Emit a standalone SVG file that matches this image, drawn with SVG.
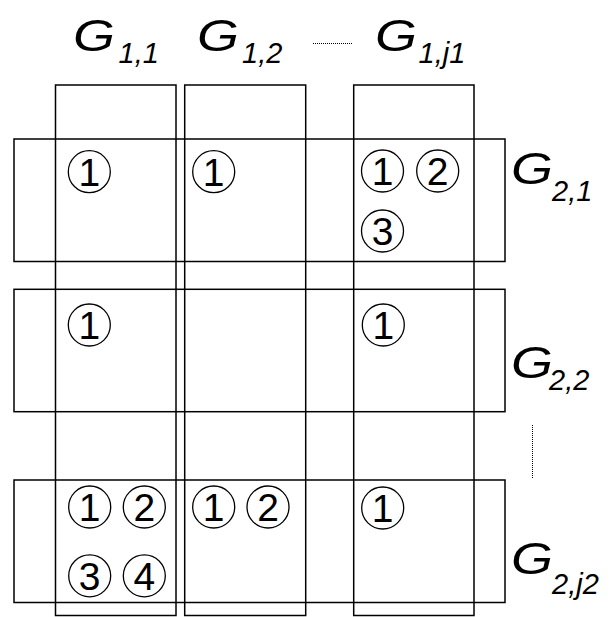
<svg xmlns="http://www.w3.org/2000/svg" width="613" height="617" viewBox="0 0 613 617">
<style>
.box{fill:none;stroke:#000;stroke-width:1.5}
.c{fill:none;stroke:#000;stroke-width:1.3}
.d{font-family:"Liberation Sans",Arial,sans-serif;font-size:39px;text-anchor:middle;fill:#000}
.G{font-family:"Liberation Sans",Arial,sans-serif;font-style:italic;font-size:45px;fill:#000}
.s{font-family:"Liberation Sans",Arial,sans-serif;font-style:italic;font-size:29px;fill:#000}
.dot{stroke:#000;stroke-width:1;stroke-dasharray:1 1;fill:none}
</style>
<rect width="613" height="617" fill="#fff"/>
<g id="col1"><rect class="box" x="55.5" y="85" width="120.5" height="530.5"/></g>
<g id="col2"><rect class="box" x="184.7" y="85" width="121" height="530.5"/></g>
<g id="col3"><rect class="box" x="353.7" y="85" width="120.3" height="530.5"/></g>
<g id="row1"><rect class="box" x="14" y="139" width="491" height="122.5"/></g>
<g id="row2"><rect class="box" x="14" y="289.3" width="491" height="122.4"/></g>
<g id="row3"><rect class="box" x="14" y="480" width="491" height="122.5"/></g>
<g id="marks">
<circle class="c" cx="89.3" cy="171.7" r="21"/><text class="d" x="89.3" y="185.6">1</text>
<circle class="c" cx="213.7" cy="171.7" r="21"/><text class="d" x="213.7" y="185.6">1</text>
<circle class="c" cx="382.5" cy="171" r="21"/><text class="d" x="382.5" y="184.9">1</text>
<circle class="c" cx="437.7" cy="171" r="21"/><text class="d" x="437.7" y="184.9">2</text>
<circle class="c" cx="382.5" cy="231" r="21"/><text class="d" x="382.5" y="244.9">3</text>
<circle class="c" cx="89.3" cy="325" r="21"/><text class="d" x="89.3" y="338.9">1</text>
<circle class="c" cx="383.3" cy="325" r="21"/><text class="d" x="383.3" y="338.9">1</text>
<circle class="c" cx="89.7" cy="507" r="21"/><text class="d" x="89.7" y="520.9">1</text>
<circle class="c" cx="144.3" cy="507" r="21"/><text class="d" x="144.3" y="520.9">2</text>
<circle class="c" cx="89.7" cy="575.8" r="21"/><text class="d" x="89.7" y="589.7">3</text>
<circle class="c" cx="144.3" cy="575.8" r="21"/><text class="d" x="144.3" y="589.7">4</text>
<circle class="c" cx="213.7" cy="507" r="21"/><text class="d" x="213.7" y="520.9">1</text>
<circle class="c" cx="268" cy="507" r="21"/><text class="d" x="268" y="520.9">2</text>
<circle class="c" cx="382.7" cy="508" r="21"/><text class="d" x="382.7" y="521.9">1</text>
</g>
<g id="labels">
<g id="G11"><text class="G" x="73" y="51" textLength="42" lengthAdjust="spacingAndGlyphs">G</text><text class="s" x="118.5" y="63">1,1</text></g>
<g id="G12"><text class="G" x="197" y="51" textLength="42" lengthAdjust="spacingAndGlyphs">G</text><text class="s" x="242" y="63">1,2</text></g>
<g id="G1j1"><text class="G" x="375" y="51" textLength="42" lengthAdjust="spacingAndGlyphs">G</text><text class="s" x="418.5" y="63">1,j1</text></g>
<g id="G21"><text class="G" x="511" y="184" textLength="42" lengthAdjust="spacingAndGlyphs">G</text><text class="s" x="552" y="201">2,1</text></g>
<g id="G22"><text class="G" x="511" y="378" textLength="42" lengthAdjust="spacingAndGlyphs">G</text><text class="s" x="549" y="390">2,2</text></g>
<g id="G2j2"><text class="G" x="511" y="574" textLength="42" lengthAdjust="spacingAndGlyphs">G</text><text class="s" x="552" y="594">2,j2</text></g>
</g>
<g id="connectors">
<line class="dot" x1="313" y1="43.5" x2="353" y2="43.5"/>
<line class="dot" x1="532.5" y1="425" x2="532.5" y2="478"/>
</g>
</svg>
